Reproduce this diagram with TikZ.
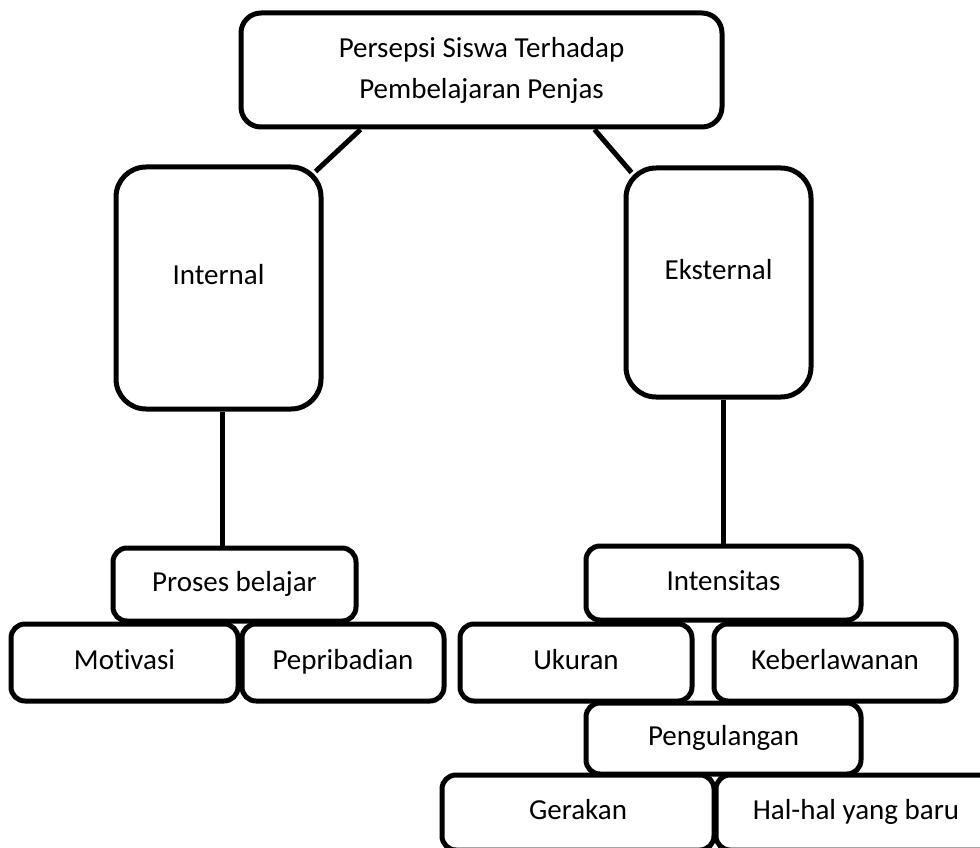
\documentclass[tikz,border=0pt]{standalone}
\usepackage{fontspec}
\setmainfont{Carlito}[Ligatures=NoCommon]
\usetikzlibrary{calc}
\tikzset{
  box/.style={draw=black, line width=5pt, fill=white, rounded corners=14pt,
    inner sep=0pt, align=center, font=\fontsize{29}{41}\selectfont,
    text height=20pt, text depth=6pt},
  bigbox/.style={box, rounded corners=30pt, text depth=27pt},
  topbox/.style={draw=black, line width=5pt, fill=white, rounded corners=20pt,
    inner sep=0pt, align=center, font=\fontsize{29}{41}\selectfont},
  conn/.style={draw=black, line width=5pt}
}
\begin{document}
\begin{tikzpicture}[x=1pt, y=-1pt]
\useasboundingbox (0,0) rectangle (980,848);
\clip (0,0) rectangle (980,848);
\fill[white] (0,0) rectangle (980,848);

\node[topbox, minimum width=481pt, minimum height=114pt] (top) at (481.5,70)
  {Persepsi Siswa Terhadap\\Pembelajaran Penjas};

\node[bigbox, minimum width=205pt, minimum height=242pt] (int) at (218.5,288) {Internal};
\node[bigbox, minimum width=185pt, minimum height=229pt] (eks) at (718.5,282.5) {Eksternal};

\node[box, minimum width=243pt, minimum height=73pt] (proses) at (234.5,584.5) {Proses belajar};
\node[box, minimum width=227pt, minimum height=77pt] (motiv) at (124.5,662.5) {Motivasi};
\node[box, minimum width=202pt, minimum height=77pt] (pepri) at (343,662.5) {Pepribadian};

\node[box, minimum width=275pt, minimum height=74pt] (intens) at (723.5,583) {Intensitas};
\node[box, minimum width=232pt, minimum height=77pt] (ukuran) at (576,662.5) {Ukuran};
\node[box, minimum width=242pt, minimum height=77pt] (keber) at (835,662.5) {Keberlawanan};
\node[box, minimum width=275pt, minimum height=71pt] (pengul) at (723.5,738.5) {Pengulangan};
\node[box, minimum width=272pt, minimum height=75pt] (gerak) at (578,812.5) {Gerakan};
\node[box, minimum width=280pt, minimum height=75pt] (hal) at (856,812.5) {Hal-hal yang baru};

\draw[conn] ($(top.south west)+(122,0)$) -- ($(int.north east)+(-8,7)$);
\draw[conn] ($(top.south west)+(356,0)$) -- ($(eks.north west)+(8,7)$);
\draw[conn] ($(int.south)+(3.5,0)$) -- ($(proses.north)+(-12.5,0)$);
\draw[conn] ($(eks.south)+(4.5,0)$) -- ($(intens.north)+(-0.5,0)$);
\end{tikzpicture}
\end{document}
